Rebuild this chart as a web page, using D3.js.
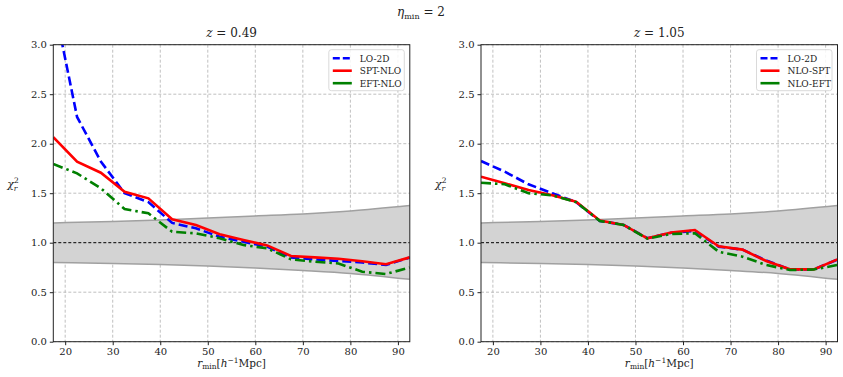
<!DOCTYPE html>
<html>
<head>
<meta charset="utf-8">
<script src="https://cdn.jsdelivr.net/npm/d3@7"></script>
<style>
  body { margin: 0; background: #fff; }
  svg text { font-family: "DejaVu Serif", "Liberation Serif", "Times New Roman", serif; fill: #222; }
</style>
</head>
<body>
<div id="chart"></div>
<script>
// r_min grid (h^-1 Mpc)
var rmin = [17.5, 22.5, 27.5, 32.5, 37.5, 42.5, 47.5, 52.5, 57.5, 62.5, 67.5, 72.5, 77.5, 82.5, 87.5, 92.5];

// z = 0.49
var lo2d_049   = [3.45, 2.27, 1.82, 1.50, 1.41, 1.20, 1.145, 1.06, 1.01, 0.96, 0.85, 0.832, 0.815, 0.80, 0.775, 0.85];
var sptnlo_049 = [2.065, 1.818, 1.707, 1.515, 1.448, 1.236, 1.179, 1.085, 1.027, 0.973, 0.866, 0.852, 0.838, 0.812, 0.782, 0.852];
var eftnlo_049 = [1.795, 1.70, 1.55, 1.34, 1.297, 1.11, 1.095, 1.045, 0.977, 0.943, 0.832, 0.808, 0.79, 0.707, 0.684, 0.75];

// z = 1.05
var lo2d_105   = [1.825, 1.717, 1.59, 1.499, 1.41, 1.22, 1.18, 1.045, 1.10, 1.12, 0.96, 0.93, 0.82, 0.73, 0.73, 0.83];
var nlospt_105 = [1.667, 1.60, 1.532, 1.48, 1.414, 1.225, 1.179, 1.044, 1.103, 1.128, 0.963, 0.93, 0.815, 0.731, 0.731, 0.832];
var nloeft_105 = [1.606, 1.59, 1.50, 1.478, 1.41, 1.22, 1.18, 1.04, 1.088, 1.095, 0.909, 0.859, 0.775, 0.724, 0.73, 0.775];

// 1-sigma band around chi2_r = 1
var bandX     = [17.5, 30, 40, 50, 60, 70, 80, 92.5];
var bandUpper = [1.20, 1.215, 1.23, 1.25, 1.27, 1.29, 1.32, 1.375];
var bandLower = [0.80, 0.79, 0.78, 0.765, 0.745, 0.72, 0.69, 0.63];

var xTicks = [20, 30, 40, 50, 60, 70, 80, 90];
var yTicks = [0.0, 0.5, 1.0, 1.5, 2.0, 2.5, 3.0];

var panels = [
  {left: 53.3, title: "0.49", names: ["LO-2D", "SPT-NLO", "EFT-NLO"], series: [lo2d_049, sptnlo_049, eftnlo_049]},
  {left: 481, title: "1.05", names: ["LO-2D", "NLO-SPT", "NLO-EFT"], series: [lo2d_105, nlospt_105, nloeft_105]}
];
var styles = [
  {color: "#0000ff", dash: "9,4"},
  {color: "#ff0000", dash: null},
  {color: "#008000", dash: "10,4,2.5,4"}
];

var W = 843, H = 377;
var pw = 356.5, panelTop = 44.7, ph = 297;
var serif = "'DejaVu Serif', 'Liberation Serif', serif";

var svg = d3.select("#chart").append("svg")
  .attr("width", W).attr("height", H);

// suptitle
var st = svg.append("text").attr("x", 421).attr("y", 16).attr("text-anchor", "middle")
  .style("font-size", "12px").style("font-family", serif);
st.append("tspan").style("font-style", "italic").text("η");
st.append("tspan").attr("dy", 3).style("font-size", "8px").text("min");
st.append("tspan").attr("dy", -3).text(" = 2");

panels.forEach(function(p) {
  var g = svg.append("g").attr("transform", "translate(" + p.left + "," + panelTop + ")");

  var x = d3.scaleLinear().domain([17.5, 92.5]).range([0, pw]);
  var y = d3.scaleLinear().domain([0, 3]).range([ph, 0]);

  var clipId = "clip" + p.title.replace(".", "");
  g.append("defs").append("clipPath").attr("id", clipId)
    .append("rect").attr("width", pw).attr("height", ph);

  // grid
  g.append("g").selectAll("line").data(xTicks).enter().append("line")
    .attr("x1", function(d) { return x(d); }).attr("x2", function(d) { return x(d); })
    .attr("y1", 0).attr("y2", ph)
    .attr("stroke", "#b0b0b0").attr("stroke-width", 0.8).attr("stroke-dasharray", "3,2");
  g.append("g").selectAll("line").data(yTicks).enter().append("line")
    .attr("y1", function(d) { return y(d); }).attr("y2", function(d) { return y(d); })
    .attr("x1", 0).attr("x2", pw)
    .attr("stroke", "#b0b0b0").attr("stroke-width", 0.8).attr("stroke-dasharray", "3,2");

  var plot = g.append("g").attr("clip-path", "url(#" + clipId + ")");

  // band
  var bandData = bandX.map(function(v, i) { return {x: v, lo: bandLower[i], hi: bandUpper[i]}; });
  plot.append("path").datum(bandData)
    .attr("fill", "#d3d3d3")
    .attr("d", d3.area().curve(d3.curveMonotoneX)
      .x(function(d) { return x(d.x); })
      .y0(function(d) { return y(d.lo); })
      .y1(function(d) { return y(d.hi); }));
  ["hi", "lo"].forEach(function(k) {
    plot.append("path").datum(bandData)
      .attr("fill", "none").attr("stroke", "#a0a0a0").attr("stroke-width", 1.5)
      .attr("d", d3.line().curve(d3.curveMonotoneX)
        .x(function(d) { return x(d.x); })
        .y(function(d) { return y(d[k]); }));
  });

  // chi2 = 1
  plot.append("line")
    .attr("x1", 0).attr("x2", pw).attr("y1", y(1)).attr("y2", y(1))
    .attr("stroke", "#000").attr("stroke-width", 1).attr("stroke-dasharray", "3,2");

  // series
  p.series.forEach(function(s, i) {
    plot.append("path").datum(s)
      .attr("fill", "none")
      .attr("stroke", styles[i].color)
      .attr("stroke-width", 2.6)
      .attr("stroke-dasharray", styles[i].dash)
      .attr("d", d3.line()
        .x(function(d, j) { return x(rmin[j]); })
        .y(function(d) { return y(d); }));
  });

  // axes
  var xa = g.append("g").attr("transform", "translate(0," + ph + ")")
    .call(d3.axisBottom(x).tickValues(xTicks).tickSize(3.5).tickPadding(3).tickFormat(d3.format("d")));
  var ya = g.append("g")
    .call(d3.axisLeft(y).tickValues(yTicks).tickSize(3.5).tickPadding(3).tickFormat(d3.format(".1f")));
  [xa, ya].forEach(function(a) {
    a.select(".domain").remove();
    a.selectAll("line").attr("stroke", "#222");
    a.selectAll("text").style("font-size", "10px").style("font-family", serif).attr("fill", "#222");
  });
  g.append("rect").attr("width", pw).attr("height", ph)
    .attr("fill", "none").attr("stroke", "#222").attr("stroke-width", 1);

  // titles
  var t = g.append("text").attr("x", pw / 2).attr("y", -8).attr("text-anchor", "middle")
    .style("font-size", "12px").style("font-family", serif);
  t.append("tspan").style("font-style", "italic").text("z");
  t.append("tspan").text(" = " + p.title);

  var xl = g.append("text").attr("x", pw / 2).attr("y", ph + 25).attr("text-anchor", "middle")
    .style("font-size", "10.5px").style("font-family", serif);
  xl.append("tspan").style("font-style", "italic").text("r");
  xl.append("tspan").attr("dy", 2.5).style("font-size", "7.5px").text("min");
  xl.append("tspan").attr("dy", -2.5).text("[");
  xl.append("tspan").style("font-style", "italic").text("h");
  xl.append("tspan").attr("dy", -4).style("font-size", "7.5px").text("−1");
  xl.append("tspan").attr("dy", 4).text("Mpc]");

  var yl = g.append("text").attr("x", -46).attr("y", 143).attr("text-anchor", "start")
    .style("font-size", "11px").style("font-family", serif);
  yl.append("tspan").style("font-style", "italic").text("χ");
  yl.append("tspan").attr("dy", -5).style("font-size", "7.5px").text("2");
  yl.append("tspan").attr("dy", 8).attr("dx", -5).style("font-size", "7.5px").style("font-style", "italic").text("r");

  // legend
  var lg = g.append("g").attr("transform", "translate(" + (pw - 81) + ",5)");
  lg.append("rect").attr("width", 75.5).attr("height", 41).attr("rx", 2.5)
    .attr("fill", "#fff").attr("fill-opacity", 0.85).attr("stroke", "#d0d0d0").attr("stroke-width", 0.8);
  p.names.forEach(function(n, i) {
    var yy = 8.5 + i * 12.5;
    lg.append("line").attr("x1", 4).attr("x2", 23).attr("y1", yy).attr("y2", yy)
      .attr("stroke", styles[i].color).attr("stroke-width", 2.6)
      .attr("stroke-dasharray", i == 0 ? "7,3" : null);
    lg.append("text").attr("x", 31).attr("y", yy + 3.5)
      .style("font-size", "9px").style("font-family", serif).text(n);
  });
});
</script>
</body>
</html>
